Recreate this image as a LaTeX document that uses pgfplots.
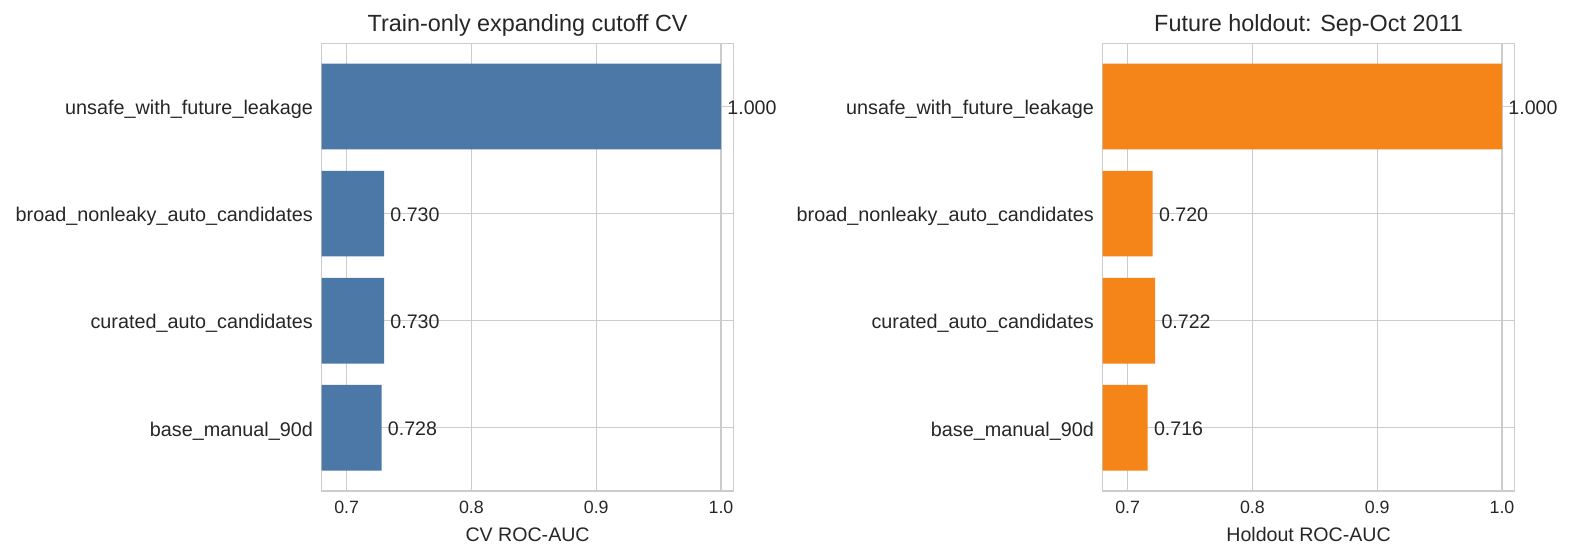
\documentclass[border=0pt]{standalone}
\usepackage{pgfplots}
\pgfplotsset{compat=1.18}
\usepackage{fontspec}
\setmainfont{Liberation Sans}
\definecolor{cvblue}{HTML}{4C78A8}
\definecolor{hoorange}{HTML}{F58518}
\definecolor{txt}{HTML}{262626}
\definecolor{gridc}{HTML}{CCCCCC}

\pgfplotstableread{
y x
0 0.728
1 0.730
2 0.730
3 1.000
}\cvdata
\pgfplotstableread{
y x
0 0.716
1 0.722
2 0.720
3 1.000
}\hodata

\pgfplotsset{mystyle/.style={
  scale only axis, width=205.9pt, height=223.85pt,
  anchor=south west,
  xbar, bar width=0.8,
  xmin=0.68, xmax=1.01, ymin=-0.59, ymax=3.59,
  xtick={0.7,0.8,0.9,1.0}, xticklabels={0.7,0.8,0.9,1.0},
  ytick={0,1,2,3},
  yticklabels={base\_manual\_90d, curated\_auto\_candidates, broad\_nonleaky\_auto\_candidates, unsafe\_with\_future\_leakage},
  major tick length=0pt,
  grid=major, grid style={gridc, line width=0.65pt},
  axis line style={gridc, line width=0.65pt},
  /pgf/number format/assume math mode=true,
  every axis title shift=0pt,
  xticklabel style={font=\fontsize{8.9}{10}\selectfont, text=txt, anchor=base, inner sep=0pt, yshift=-11.2pt},
  yticklabel style={font=\fontsize{9.9}{11}\selectfont, text=txt, anchor=base east, inner sep=0pt, xshift=-4.2pt, yshift=-4.1pt},
  title style={font=\fontsize{11.7}{14}\selectfont, text=txt, at={(axis description cs:0.5,1)}, anchor=base, inner sep=0pt, yshift=5.8pt},
  xlabel style={font=\fontsize{9.8}{11}\selectfont, text=txt, at={(axis description cs:0.5,0)}, anchor=base, inner sep=0pt, yshift=-25.2pt},
  point meta=x,
  nodes near coords={\pgfmathprintnumber[fixed,fixed zerofill,precision=3,assume math mode=true]{\pgfplotspointmeta}},
  every node near coord/.style={font=\fontsize{9.8}{11}\selectfont, text=txt, anchor=base west, inner sep=0pt, xshift=3pt, yshift=-4pt},
}}

\begin{document}
\begin{tikzpicture}
\path[use as bounding box] (0,0) rectangle (785.5pt,279.5pt);
\begin{axis}[mystyle, at={(160.85pt,34pt)},
  title={Train-only expanding cutoff CV}, xlabel={CV ROC-AUC}]
\addplot[fill=cvblue, draw=none] table[x=x, y=y] {\cvdata};
\end{axis}
\begin{axis}[mystyle, at={(551.35pt,34pt)},
  title={Future holdout: Sep-Oct 2011}, xlabel={Holdout ROC-AUC}]
\addplot[fill=hoorange, draw=none] table[x=x, y=y] {\hodata};
\end{axis}
\end{tikzpicture}
\end{document}
